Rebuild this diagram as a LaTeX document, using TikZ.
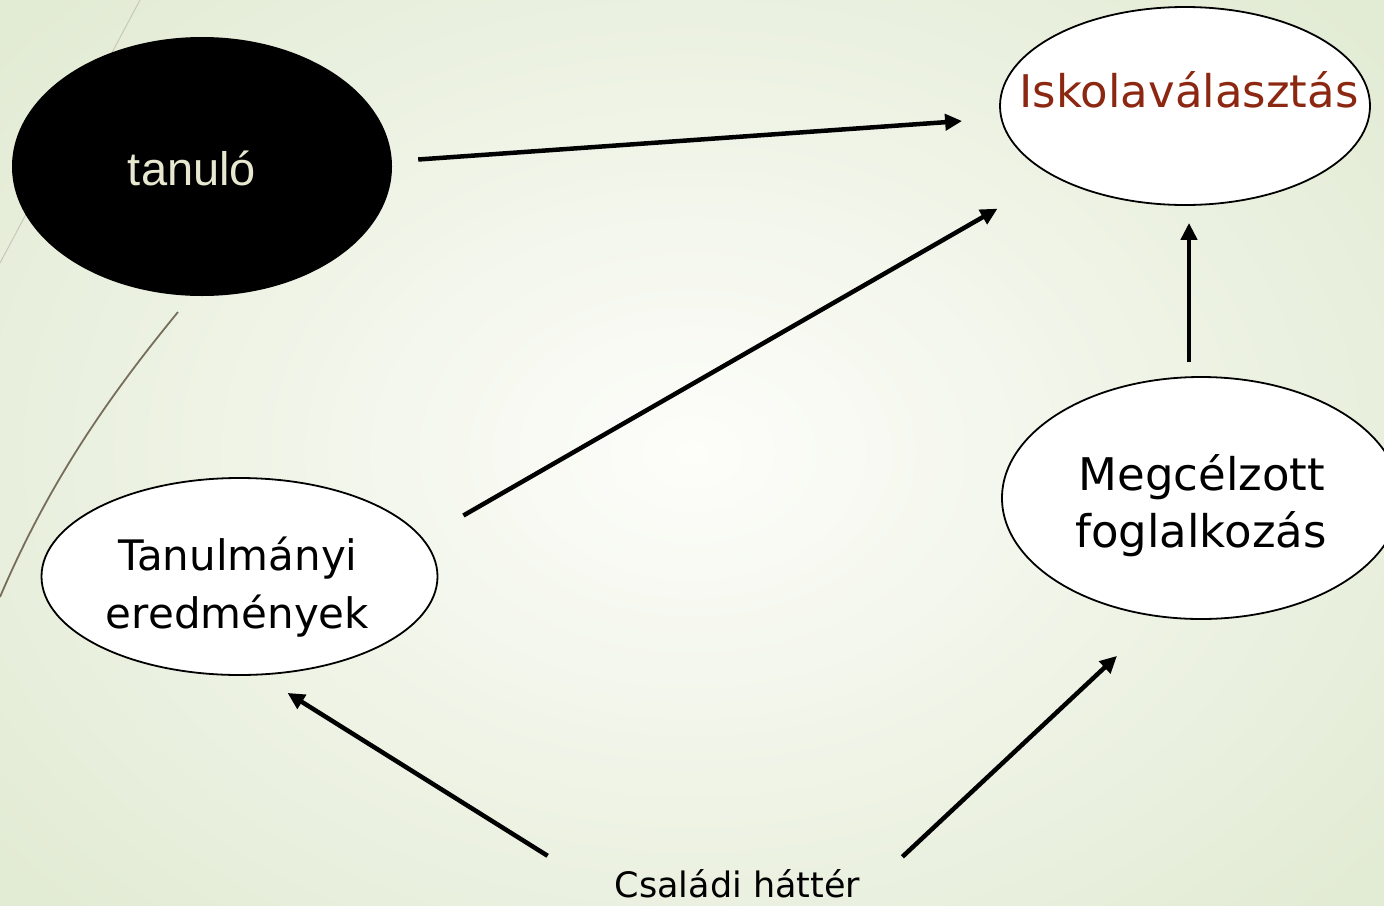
\documentclass[tikz,border=0pt]{standalone}
\usepackage{fontspec}
\usetikzlibrary{shapes.geometric,arrows.meta,calc}
\newfontfamily\comicf{DejaVu Sans}
\newfontfamily\arialf{Liberation Sans}
\definecolor{bgout}{RGB}{226,235,212}
\definecolor{bgin}{RGB}{253,253,250}
\definecolor{iskred}{RGB}{140,40,18}
\definecolor{beige}{RGB}{232,232,208}
\definecolor{deco1}{RGB}{200,200,186}
\definecolor{deco2}{RGB}{118,110,90}
\tikzset{
  oval/.style={ellipse,draw=black,line width=1.8pt,fill=white,inner sep=0pt},
  lbl/.style={inner sep=0pt,align=center},
  arr/.style={line width=4.5pt,-{Triangle[length=17pt,width=16pt]}},
}
\begin{document}
\begin{tikzpicture}[x=1pt,y=-1pt]
\useasboundingbox (0,0) rectangle (1384,905);
\shade[inner color=bgin,outer color=bgout] (-200,-200) rectangle (1584,1105);
\draw[deco1,line width=1pt] (140,0) -- (0,263);
\draw[deco2,line width=1.8pt] (178,312) .. controls (110,395) and (50,480) .. (0,597);
% nodes
\node[ellipse,fill=black,inner sep=0pt,minimum width=380pt,minimum height=259pt] (tanulo) at (202,166.5) {};
\node[lbl,anchor=base,text=beige,font=\arialf\fontsize{47}{56}\selectfont] (tanulot) at (192,185) {tanuló};
\node[oval,minimum width=370pt,minimum height=198pt] (isk) at (1185,106) {};
\node[lbl,anchor=base,text=iskred,font=\comicf\fontsize{45}{56}\selectfont] (iskt) at (1189,107) {Iskolaválasztás};
\node[oval,minimum width=398pt,minimum height=242pt] (meg) at (1201,498) {};
\node[lbl,anchor=base,font=\comicf\fontsize{45}{56}\selectfont] (megt1) at (1202,490) {Megcélzott};
\node[lbl,anchor=base,font=\comicf\fontsize{45}{56}\selectfont] (megt2) at (1201,547) {foglalkozás};
\node[oval,minimum width=396pt,minimum height=197pt] (tan) at (239.5,576.5) {};
\node[lbl,anchor=base,font=\comicf\fontsize{42}{52}\selectfont] (tant1) at (238,570) {Tanulmányi};
\node[lbl,anchor=base,font=\comicf\fontsize{42}{52}\selectfont] (tant2) at (237.5,628) {eredmények};
\node[lbl,anchor=base,font=\comicf\fontsize{35}{42}\selectfont] (csal) at (737.5,897) {Családi háttér};
% connectors
\draw[arr] ($(tanulo.east)+(26,-7)$) -- ($(isk.west)+(-37,15)$);
\draw[arr] ($(tan.east)+(25,-61)$) -- ($(isk.south west)+(-56,32)$);
\draw[arr] ($(meg.north)+(-12,-14)$) -- ($(isk.south)+(4,17)$);
\draw[arr] ($(csal.north west)+(-67,-13)$) -- ($(tan.south)+(48,17)$);
\draw[arr] ($(csal.north east)+(42,-12)$) -- ($(meg.south)+(-84,36)$);
\end{tikzpicture}
\end{document}
